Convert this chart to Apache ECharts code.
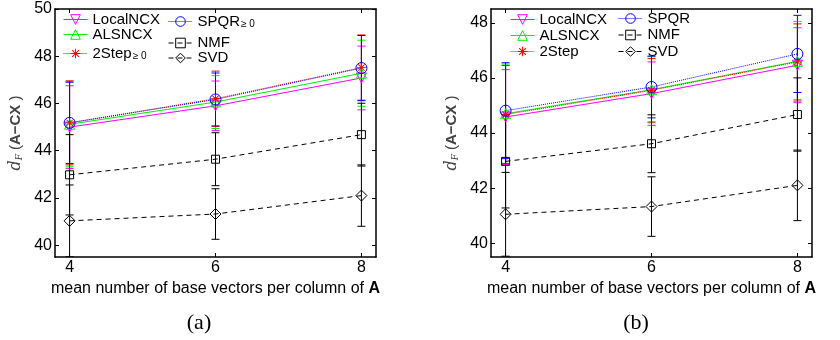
<!DOCTYPE html>
<html><head><meta charset="utf-8">
<script src="https://cdn.jsdelivr.net/npm/echarts@6/dist/echarts.min.js"></script>
<style>html,body{margin:0;padding:0;background:#fff}#c{width:840px;height:340px}</style>
</head><body><div id="c"></div>
<script>
// ---- data ----
const xValues = [4, 6, 8];
const xTicks = [4, 6, 8];
const yTicksA = [40, 42, 44, 46, 48, 50];
const yTicksB = [40, 42, 44, 46, 48];
const captions = ['(a)', '(b)'];
const xName = 'mean number of base vectors per column of ';
const xNameBold = 'A';

// panel (a)
const localA = [45.0, 45.9, 47.08];   const localAErr = [1.75, 1.05, 1.35];
const alsA   = [45.12, 46.06, 47.28]; const alsAErr   = [1.8, 1.12, 1.4];
const twoA   = [45.18, 46.2, 47.52];  const twoAErr   = [1.78, 1.17, 1.38];
const spqrA  = [45.18, 46.17, 47.5];  const spqrAErr  = [1.72, 1.12, 1.38];
const nmfA   = [42.98, 43.64, 44.68]; const nmfAErr   = [1.7, 1.12, 1.33];
const svdA   = [41.03, 41.32, 42.1];  const svdAErr   = [1.52, 1.07, 1.3];
// panel (b)
const localB = [44.58, 45.43, 46.46]; const localBErr = [1.72, 1.15, 1.36];
const alsB   = [44.7, 45.57, 46.6];   const alsBErr   = [1.8, 1.2, 1.45];
const twoB   = [44.67, 45.55, 46.58]; const twoBErr   = [1.78, 1.15, 1.38];
const spqrB  = [44.81, 45.67, 46.87]; const spqrBErr  = [1.74, 1.12, 1.4];
const nmfB   = [42.97, 43.61, 44.67]; const nmfBErr   = [1.69, 1.05, 1.33];
const svdB   = [41.05, 41.33, 42.1];  const svdBErr   = [1.52, 1.08, 1.28];

// ---- styles ----
const FONT = 'Liberation Sans';
const ASTER = 'path://M-0.1,-1L0.1,-1L0.1,1L-0.1,1Z M-1,-0.1L1,-0.1L1,0.1L-1,0.1Z M-0.63,-0.77L0.77,0.63L0.63,0.77L-0.77,-0.63Z M-0.77,0.63L0.63,-0.77L0.77,-0.63L-0.63,0.77Z';
const styles = {
  local: {color: '#ff00ff', symbol: 'triangle', rotate: 180, size: 10, type: 'solid'},
  als:   {color: '#00f000', symbol: 'triangle', rotate: 0, size: 10, type: 'solid'},
  two:   {color: '#ff0000', symbol: ASTER, rotate: 0, size: 9, type: 'dotted', filled: true},
  spqr:  {color: '#0000ff', symbol: 'circle', rotate: 0, size: 11, type: 'dotted'},
  nmf:   {color: '#000000', symbol: 'rect', rotate: 0, size: 8, type: [5, 4]},
  svd:   {color: '#000000', symbol: 'diamond', rotate: 0, size: 11, type: [5, 4]}
};

function errRender(params, api) {
  const x = api.value(0), m = api.value(1), s = api.value(2);
  const t = api.coord([x, m + s]);
  const b = api.coord([x, m - s]);
  const hw = 4;
  const st = {stroke: api.visual('color'), lineWidth: 1};
  return {type: 'group', children: [
    {type: 'line', shape: {x1: t[0], y1: t[1], x2: b[0], y2: b[1]}, style: st},
    {type: 'line', shape: {x1: t[0] - hw, y1: t[1], x2: t[0] + hw, y2: t[1]}, style: st},
    {type: 'line', shape: {x1: b[0] - hw, y1: b[1], x2: b[0] + hw, y2: b[1]}, style: st}
  ]};
}

const series = [];
function add(panel, name, key, means, errs) {
  const s = styles[key];
  const xi = panel === 0 ? 0 : 2, yi = panel === 0 ? 0 : 2;
  series.push({
    type: 'custom', name: 'err-' + panel + '-' + key, xAxisIndex: xi, yAxisIndex: yi,
    renderItem: errRender, clip: true, silent: true,
    itemStyle: {color: s.color},
    encode: {x: 0, y: 1},
    data: xValues.map((x, i) => [x, means[i], errs[i]])
  });
  series.push({
    type: 'line', name: name, xAxisIndex: xi, yAxisIndex: yi,
    symbol: s.symbol, symbolRotate: s.rotate, symbolSize: s.size, symbolKeepAspect: true,
    showAllSymbol: true, silent: true, clip: true,
    lineStyle: {color: s.color, width: 1, type: s.type},
    itemStyle: s.filled ? {color: s.color, borderWidth: 0} : {color: 'rgba(255,255,255,0)', borderColor: s.color, borderWidth: 1},
    emphasis: {disabled: true},
    data: xValues.map((x, i) => [x, means[i]])
  });
}
add(0, 'LocalNCX', 'local', localA, localAErr);
add(0, 'ALSNCX', 'als', alsA, alsAErr);
add(0, '2Step≥0', 'two', twoA, twoAErr);
add(0, 'SPQR≥0', 'spqr', spqrA, spqrAErr);
add(0, 'NMF', 'nmf', nmfA, nmfAErr);
add(0, 'SVD', 'svd', svdA, svdAErr);
add(1, 'LocalNCX', 'local', localB, localBErr);
add(1, 'ALSNCX', 'als', alsB, alsBErr);
add(1, '2Step', 'two', twoB, twoBErr);
add(1, 'SPQR', 'spqr', spqrB, spqrBErr);
add(1, 'NMF', 'nmf', nmfB, nmfBErr);
add(1, 'SVD', 'svd', svdB, svdBErr);

const grids = [
  {left: 55, top: 9, width: 321, height: 248},
  {left: 491, top: 9, width: 321, height: 248}
];
const axisLine = {show: true, onZero: false, lineStyle: {color: '#000', width: 1.5}};
const tick = (vals) => ({show: true, inside: true, length: 4, customValues: vals, lineStyle: {color: '#000', width: 1}});

function xAxes(gi) {
  return [
    {type: 'value', gridIndex: gi, min: 3.8, max: 8.2, position: 'bottom',
     axisLine: axisLine, axisTick: tick(xTicks), splitLine: {show: false},
     axisLabel: {customValues: xTicks, margin: 3, fontSize: 16, fontFamily: FONT, color: '#000'},
     name: '{n|' + xName + '}{b|' + xNameBold + '}', nameLocation: 'middle', nameGap: 13,
     nameTextStyle: {fontSize: 16, fontFamily: FONT, color: '#000',
       rich: {n: {fontSize: 16, fontFamily: FONT, color: '#000'}, b: {fontSize: 16, fontFamily: FONT, fontWeight: 'bold', color: '#000'}}}},
    {type: 'value', gridIndex: gi, min: 3.8, max: 8.2, position: 'top',
     axisLine: axisLine, axisTick: tick(xTicks), splitLine: {show: false}, axisLabel: {show: false}}
  ];
}
const yNameRich = {
  d: {fontFamily: 'DejaVu Serif', fontStyle: 'italic', fontSize: 16, color: '#444', verticalAlign: 'top', lineHeight: 16},
  f: {fontFamily: 'DejaVu Serif', fontStyle: 'italic', fontSize: 9, color: '#444', verticalAlign: 'bottom', lineHeight: 9, padding: [10, 4, 0, 0]},
  p: {fontFamily: FONT, fontSize: 15, color: '#444', verticalAlign: 'top', lineHeight: 16},
  b: {fontFamily: FONT, fontSize: 15, fontWeight: 'bold', color: '#444', verticalAlign: 'top', lineHeight: 16}
};
function yAxes(gi, max, ticks) {
  return [
    {type: 'value', gridIndex: gi, min: 39.5, max: max, position: 'left',
     axisLine: axisLine, axisTick: tick(ticks), splitLine: {show: false},
     axisLabel: {customValues: ticks, margin: 3, fontSize: 16, fontFamily: FONT, color: '#000'},
     name: '{d|d}{f|F}{p|(}{b|A−CX}{p| )}', nameLocation: 'middle', nameGap: 31,
     nameTextStyle: {rich: yNameRich}},
    {type: 'value', gridIndex: gi, min: 39.5, max: max, position: 'right',
     axisLine: axisLine, axisTick: tick(ticks), splitLine: {show: false}, axisLabel: {show: false}}
  ];
}

const legendRich = {
  m: {fontSize: 15, fontFamily: FONT, color: '#000', verticalAlign: 'top', lineHeight: 15},
  s: {fontSize: 10, fontFamily: FONT, color: '#000', verticalAlign: 'bottom', lineHeight: 10, padding: [9, 0, 0, 1]}
};
function legend(left, top, data, gap) {
  return {
    orient: 'vertical', left: left, top: top, padding: 0, itemGap: gap || 0,
    itemWidth: 24, itemHeight: 12, selectedMode: false, data: data,
    lineStyle: {width: 1},
    itemStyle: {borderWidth: 1},
    textStyle: {fontSize: 15, fontFamily: FONT, color: '#000', lineHeight: 15, rich: legendRich},
    formatter: function (n) {
      if (n === '2Step≥0') return '{m|2Step}{s|≥ 0}';
      if (n === 'SPQR≥0') return '{m|SPQR}{s|≥ 0}';
      return n;
    }
  };
}

const chart = echarts.init(document.getElementById('c'), null, {renderer: 'canvas'});
chart.setOption({
  animation: false,
  backgroundColor: '#fff',
  grid: grids,
  xAxis: xAxes(0).concat(xAxes(1)),
  yAxis: yAxes(0, 50, yTicksA).concat(yAxes(1, 48.5, yTicksB)),
  legend: [
    legend(63, 12, ['LocalNCX', 'ALSNCX', '2Step≥0']),
    legend(168, 10, ['SPQR≥0']),
    legend(168, 35.5, ['NMF', 'SVD']),
    legend(510, 12, ['LocalNCX', 'ALSNCX', '2Step'], 1),
    legend(618, 11, ['SPQR', 'NMF', 'SVD'], 1.5)
  ],
  graphic: [
    {type: 'text', x: 199, y: 323, style: {text: captions[0], font: '22px "Liberation Serif"', fill: '#000', textAlign: 'center', textVerticalAlign: 'middle'}},
    {type: 'text', x: 636, y: 323, style: {text: captions[1], font: '22px "Liberation Serif"', fill: '#000', textAlign: 'center', textVerticalAlign: 'middle'}}
  ],
  series: series
});
</script></body></html>
